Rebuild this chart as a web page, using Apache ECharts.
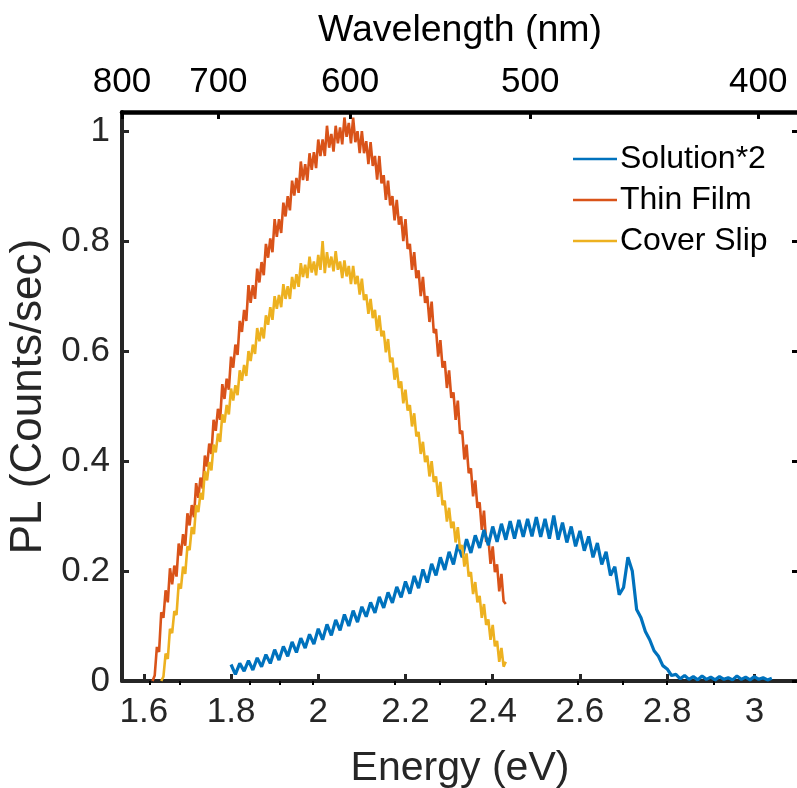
<!DOCTYPE html>
<html>
<head>
<meta charset="utf-8">
<script src="https://cdn.jsdelivr.net/npm/echarts@6/dist/echarts.min.js"></script>
<style>
  html, body { margin: 0; padding: 0; background: #fff; }
  #main { width: 797px; height: 788px; }
</style>
</head>
<body>
<div id="main"></div>
<script>
// PL spectra (energy in eV, PL normalised)
var thinFilmEv = [1.620,1.625,1.630,1.635,1.640,1.645,1.650,1.655,1.660,1.665,1.670,1.675,1.680,1.685,1.690,1.695,1.700,1.705,1.710,1.715,1.720,1.725,1.730,1.735,1.740,1.745,1.750,1.755,1.760,1.765,1.770,1.775,1.780,1.785,1.790,1.795,1.800,1.805,1.810,1.815,1.820,1.825,1.830,1.835,1.840,1.845,1.850,1.855,1.860,1.865,1.870,1.875,1.880,1.885,1.890,1.895,1.900,1.905,1.910,1.915,1.920,1.925,1.930,1.935,1.940,1.945,1.950,1.955,1.960,1.965,1.970,1.975,1.980,1.985,1.990,1.995,2.000,2.005,2.010,2.015,2.020,2.025,2.030,2.035,2.040,2.045,2.050,2.055,2.060,2.065,2.070,2.075,2.080,2.085,2.090,2.095,2.100,2.105,2.110,2.115,2.120,2.125,2.130,2.135,2.140,2.145,2.150,2.155,2.160,2.165,2.170,2.175,2.180,2.185,2.190,2.195,2.200,2.205,2.210,2.215,2.220,2.225,2.230,2.235,2.240,2.245,2.250,2.255,2.260,2.265,2.270,2.275,2.280,2.285,2.290,2.295,2.300,2.305,2.310,2.315,2.320,2.325,2.330,2.335,2.340,2.345,2.350,2.355,2.360,2.365,2.370,2.375,2.380,2.385,2.390,2.395,2.400,2.405,2.410,2.415,2.420,2.425,2.430];
var thinFilmPL = [0.00,0.01,0.062,0.053,0.125,0.115,0.165,0.143,0.205,0.176,
    0.21,0.19,0.25,0.228,0.267,0.246,0.305,0.283,0.32,0.298,
    0.36,0.333,0.37,0.35,0.41,0.39,0.432,0.413,0.475,0.455,
    0.495,0.475,0.54,0.513,0.55,0.53,0.59,0.57,0.612,0.593,
    0.655,0.635,0.675,0.655,0.72,0.688,0.72,0.695,0.75,0.725,
    0.762,0.738,0.795,0.77,0.805,0.78,0.84,0.808,0.84,0.815,
    0.87,0.845,0.882,0.856,0.91,0.883,0.915,0.888,0.945,0.911,
    0.94,0.91,0.96,0.93,0.962,0.933,0.985,0.955,0.985,0.955,
    1.01,0.97,0.995,0.963,1.01,0.978,1.007,0.976,1.025,0.99,
    1.015,0.978,1.025,0.98,1.0,0.96,1.0,0.96,0.982,0.94,
    0.98,0.937,0.955,0.912,0.955,0.905,0.92,0.875,0.91,0.865,
    0.882,0.838,0.875,0.83,0.845,0.80,0.84,0.786,0.795,0.748,
    0.78,0.733,0.747,0.70,0.735,0.688,0.70,0.653,0.69,0.633,
    0.64,0.59,0.62,0.57,0.582,0.533,0.565,0.515,0.525,0.475,
    0.51,0.45,0.455,0.403,0.43,0.378,0.387,0.336,0.365,0.315,
    0.325,0.275,0.31,0.253,0.26,0.213,0.245,0.198,0.212,0.163,
    0.195,0.145,0.14];

var coverSlipEv = [1.640,1.645,1.650,1.655,1.660,1.665,1.670,1.675,1.680,1.685,1.690,1.695,1.700,1.705,1.710,1.715,1.720,1.725,1.730,1.735,1.740,1.745,1.750,1.755,1.760,1.765,1.770,1.775,1.780,1.785,1.790,1.795,1.800,1.805,1.810,1.815,1.820,1.825,1.830,1.835,1.840,1.845,1.850,1.855,1.860,1.865,1.870,1.875,1.880,1.885,1.890,1.895,1.900,1.905,1.910,1.915,1.920,1.925,1.930,1.935,1.940,1.945,1.950,1.955,1.960,1.965,1.970,1.975,1.980,1.985,1.990,1.995,2.000,2.005,2.010,2.015,2.020,2.025,2.030,2.035,2.040,2.045,2.050,2.055,2.060,2.065,2.070,2.075,2.080,2.085,2.090,2.095,2.100,2.105,2.110,2.115,2.120,2.125,2.130,2.135,2.140,2.145,2.150,2.155,2.160,2.165,2.170,2.175,2.180,2.185,2.190,2.195,2.200,2.205,2.210,2.215,2.220,2.225,2.230,2.235,2.240,2.245,2.250,2.255,2.260,2.265,2.270,2.275,2.280,2.285,2.290,2.295,2.300,2.305,2.310,2.315,2.320,2.325,2.330,2.335,2.340,2.345,2.350,2.355,2.360,2.365,2.370,2.375,2.380,2.385,2.390,2.395,2.400,2.405,2.410,2.415,2.420,2.425,2.430];
var coverSlipPL = [0.00,0.008,0.05,0.04,0.095,0.087,0.127,0.12,0.177,0.168,
    0.208,0.195,0.245,0.238,0.28,0.267,0.32,0.307,0.342,0.33,
    0.382,0.365,0.398,0.383,0.43,0.416,0.45,0.435,0.485,0.47,
    0.502,0.485,0.532,0.51,0.538,0.52,0.565,0.546,0.575,0.555,
    0.60,0.582,0.612,0.595,0.642,0.618,0.643,0.623,0.665,0.648,
    0.68,0.657,0.70,0.677,0.702,0.68,0.722,0.695,0.718,0.695,
    0.735,0.713,0.74,0.717,0.76,0.735,0.757,0.733,0.772,0.743,
    0.763,0.738,0.775,0.748,0.80,0.742,0.78,0.752,0.772,0.745,
    0.782,0.748,0.763,0.733,0.765,0.736,0.755,0.722,0.755,0.722,
    0.737,0.703,0.732,0.693,0.703,0.668,0.695,0.66,0.675,0.637,
    0.665,0.627,0.637,0.598,0.622,0.58,0.588,0.548,0.57,0.533,
    0.545,0.505,0.53,0.492,0.502,0.463,0.487,0.445,0.453,0.413,
    0.435,0.398,0.41,0.372,0.40,0.362,0.372,0.335,0.362,0.32,
    0.328,0.29,0.315,0.278,0.29,0.252,0.28,0.24,0.247,0.208,
    0.232,0.19,0.198,0.158,0.18,0.143,0.155,0.115,0.14,0.102,
    0.112,0.075,0.102,0.063,0.073,0.035,0.06,0.026,0.035];

var solutionEv = [1.80,1.81,1.82,1.83,1.84,1.85,1.86,1.87,1.88,1.89,1.90,1.91,1.92,1.93,1.94,1.95,1.96,1.97,1.98,1.99,2.00,2.01,2.02,2.03,2.04,2.05,2.06,2.07,2.08,2.09,2.10,2.11,2.12,2.13,2.14,2.15,2.16,2.17,2.18,2.19,2.20,2.21,2.22,2.23,2.24,2.25,2.26,2.27,2.28,2.29,2.30,2.31,2.32,2.33,2.34,2.35,2.36,2.37,2.38,2.39,2.40,2.41,2.42,2.43,2.44,2.45,2.46,2.47,2.48,2.49,2.50,2.51,2.52,2.53,2.54,2.55,2.56,2.57,2.58,2.59,2.60,2.61,2.62,2.63,2.64,2.65,2.66,2.67,2.68,2.69,2.70,2.71,2.72,2.73,2.74,2.75,2.76,2.77,2.78,2.79,2.80,2.81,2.82,2.83,2.84,2.85,2.86,2.87,2.88,2.89,2.90,2.91,2.92,2.93,2.94,2.95,2.96,2.97,2.98,2.99,3.00,3.01,3.02,3.03,3.04];
var solutionPL = [0.03,0.012,0.032,0.018,0.037,0.02,0.042,0.026,0.048,0.032,0.057,0.038,0.063,0.045,0.071,0.052,0.078,0.06,0.085,0.067,0.095,0.075,0.103,0.083,0.111,0.092,0.121,0.1,0.128,0.107,0.135,0.117,0.143,0.124,0.153,0.133,0.161,0.142,0.171,0.152,0.181,0.159,0.191,0.169,0.203,0.179,0.213,0.192,0.225,0.202,0.235,0.212,0.248,0.225,0.258,0.233,0.265,0.242,0.275,0.247,0.281,0.253,0.286,0.257,0.291,0.259,0.293,0.262,0.295,0.263,0.298,0.262,0.295,0.259,0.301,0.257,0.288,0.252,0.281,0.245,0.273,0.237,0.263,0.225,0.251,0.212,0.235,0.192,0.208,0.157,0.17,0.225,0.2,0.13,0.115,0.09,0.075,0.055,0.045,0.028,0.022,0.01,0.012,0.004,0.01,0.003,0.008,0.002,0.009,0.003,0.007,0.002,0.008,0.003,0.006,0.002,0.009,0.003,0.007,0.002,0.008,0.003,0.006,0.002,0.005];

// axis ticks
var energyTicks = [1.6, 1.8, 2.0, 2.2, 2.4, 2.6, 2.8, 3.0];
var plTicks = [0, 0.2, 0.4, 0.6, 0.8, 1.0];
var wavelengthLabels = [800, 700, 600, 500, 400];
var wavelengthTickEv = [1.55, 1.771, 2.073, 2.486, 3.009];
var wavelengthMinorEv = [1.614, 1.683, 1.844, 1.912, 1.988, 2.176, 2.279, 2.383, 2.594, 2.699, 2.80, 2.906];

function pairs(xs, ys) {
    var out = [];
    for (var i = 0; i < xs.length; i++) out.push([xs[i], ys[i]]);
    return out;
}

var FONT = "'Liberation Sans', Arial, Helvetica, sans-serif";
var GRAY = '#262626';

var chart = echarts.init(document.getElementById('main'), null, { renderer: 'canvas' });

var option = {
    animation: false,
    backgroundColor: '#ffffff',
    textStyle: { fontFamily: FONT },
    grid: { left: 122, top: 112, width: 676, height: 569, outerBoundsMode: 'none', containLabel: false },
    legend: {
        left: 568,
        top: 138,
        orient: 'vertical',
        itemWidth: 44,
        itemHeight: 14,
        itemGap: 9,
        icon: 'path://M0,6 L44,6 L44,8.5 L0,8.5 Z',
        textStyle: { fontFamily: FONT, fontSize: 32, color: '#000', padding: [0, 0, 0, -2] },
        data: ['Solution*2', 'Thin Film', 'Cover Slip']
    },
    xAxis: [{
        type: 'value',
        position: 'bottom',
        min: 1.55,
        max: 3.1,
        name: 'Energy (eV)',
        nameLocation: 'middle',
        nameGap: 67,
        nameTextStyle: { fontFamily: FONT, fontSize: 41, color: GRAY },
        axisLine: { onZero: false, lineStyle: { color: GRAY, width: 4 } },
        axisTick: { inside: true, length: 7, lineStyle: { color: GRAY, width: 3 }, customValues: energyTicks },
        axisLabel: {
            fontFamily: FONT, fontSize: 35, color: GRAY, margin: 14,
            customValues: energyTicks,
            formatter: function (v) { return String(+v.toFixed(1)); }
        },
        splitLine: { show: false }
    }, {
        type: 'value',
        position: 'top',
        min: 1.55,
        max: 3.1,
        name: 'Wavelength (nm)',
        nameLocation: 'middle',
        nameGap: 62,
        nameTextStyle: { fontFamily: FONT, fontSize: 37.5, color: '#000' },
        axisLine: { onZero: false, lineStyle: { color: '#000', width: 4.5 } },
        axisTick: { inside: true, length: 7, lineStyle: { color: '#000', width: 3 }, customValues: wavelengthTickEv },
        axisLabel: {
            fontFamily: FONT, fontSize: 35, color: '#000', margin: 12,
            customValues: wavelengthTickEv,
            formatter: function (v) {
                for (var i = 0; i < wavelengthTickEv.length; i++) {
                    if (Math.abs(wavelengthTickEv[i] - v) < 1e-6) return String(wavelengthLabels[i]);
                }
                return '';
            }
        },
        splitLine: { show: false }
    }, {
        // minor ticks of the wavelength axis
        type: 'value',
        position: 'top',
        min: 1.55,
        max: 3.1,
        axisLine: { show: false },
        axisTick: { inside: true, length: 4, lineStyle: { color: '#000', width: 2 }, customValues: wavelengthMinorEv },
        axisLabel: { show: false },
        splitLine: { show: false }
    }],
    yAxis: [{
        type: 'value',
        position: 'left',
        min: 0,
        max: 1.035,
        name: 'PL (Counts/sec)',
        nameLocation: 'middle',
        nameRotate: 90,
        nameGap: 66,
        nameTextStyle: { fontFamily: FONT, fontSize: 44, color: GRAY },
        axisLine: { lineStyle: { color: GRAY, width: 4 } },
        axisTick: { inside: true, length: 7, lineStyle: { color: GRAY, width: 3 }, customValues: plTicks },
        axisLabel: {
            fontFamily: FONT, fontSize: 35, color: GRAY, margin: 12,
            customValues: plTicks,
            formatter: function (v) { return String(+v.toFixed(1)); }
        },
        splitLine: { show: false }
    }, {
        type: 'value',
        position: 'right',
        min: 0,
        max: 1.035,
        axisLine: { show: false },
        axisTick: { show: true, inside: true, length: 6, lineStyle: { color: '#000', width: 3 }, customValues: plTicks },
        axisLabel: { show: false },
        splitLine: { show: false }
    }],
    series: [{
        name: 'Solution*2',
        type: 'line',
        symbol: 'none',
        color: '#0072BD',
        lineStyle: { width: 3.2, color: '#0072BD' },
        data: pairs(solutionEv, solutionPL),
        z: 3
    }, {
        name: 'Thin Film',
        type: 'line',
        symbol: 'none',
        color: '#D95319',
        lineStyle: { width: 2.6, color: '#D95319' },
        data: pairs(thinFilmEv, thinFilmPL),
        z: 2
    }, {
        name: 'Cover Slip',
        type: 'line',
        symbol: 'none',
        color: '#EDB120',
        lineStyle: { width: 2.6, color: '#EDB120' },
        data: pairs(coverSlipEv, coverSlipPL),
        z: 4
    }]
};

chart.setOption(option);
</script>
</body>
</html>
